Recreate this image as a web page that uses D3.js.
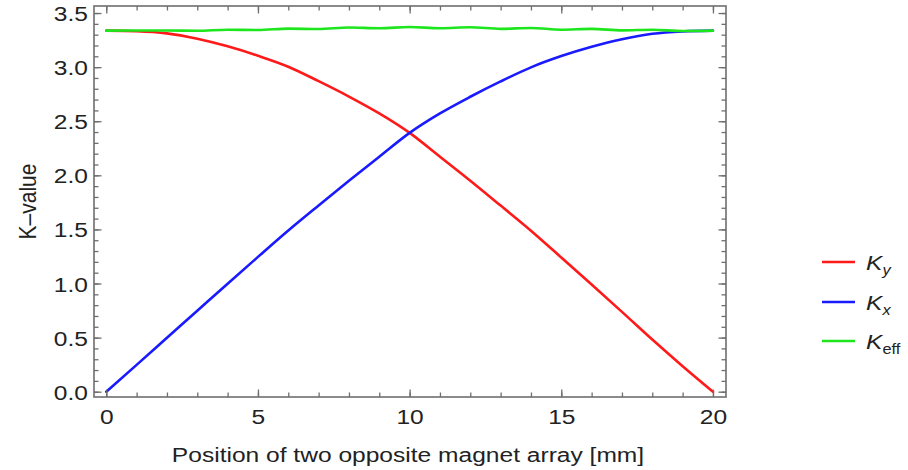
<!DOCTYPE html>
<html>
<head>
<meta charset="utf-8">
<script src="https://cdn.jsdelivr.net/npm/d3@7"></script>
<style>
  html, body { margin: 0; padding: 0; background: #fff; }
  svg { display: block; font-family: "Liberation Sans", Arial, sans-serif; }
</style>
</head>
<body>
<svg id="chart" width="908" height="470"></svg>
<script>
// Magnet position along the array [mm]
const positions = [0, 1, 2, 3, 4, 5, 6, 7, 8, 9, 10, 11, 12, 13, 14, 15, 16, 17, 18, 19, 20];
// Vertical K component
const kY = [3.337, 3.332, 3.312, 3.262, 3.192, 3.105, 3.004, 2.870, 2.728, 2.572, 2.392,
            2.172, 1.950, 1.720, 1.488, 1.240, 0.990, 0.738, 0.482, 0.236, 0.0];
// Horizontal K component
const kX = [0.0, 0.248, 0.498, 0.748, 0.998, 1.246, 1.490, 1.722, 1.950, 2.172, 2.392,
            2.572, 2.726, 2.868, 2.998, 3.102, 3.188, 3.258, 3.308, 3.330, 3.337];
// Effective K
const kEff = [3.337, 3.338, 3.338, 3.336, 3.346, 3.343, 3.356, 3.352, 3.366, 3.360, 3.371,
              3.360, 3.368, 3.354, 3.362, 3.346, 3.354, 3.340, 3.346, 3.334, 3.337];

const xMajorTicks = [0, 5, 10, 15, 20];
const xMinorTicks = [0, 1, 2, 3, 4, 5, 6, 7, 8, 9, 10, 11, 12, 13, 14, 15, 16, 17, 18, 19, 20];
const yMajorTicks = [0, 0.5, 1.0, 1.5, 2.0, 2.5, 3.0, 3.5];
const yMinorTicks = d3.range(0, 36).map(i => i / 10);

const xTitle = "Position of two opposite magnet array [mm]";
const yTitle = "K\u2013value";

const series = [
  { name: "K", sub: "y", subItalic: true,  values: kY,   color: "#ff1a1a" },
  { name: "K", sub: "x", subItalic: true,  values: kX,   color: "#1a1aff" },
  { name: "K", sub: "eff", subItalic: false, values: kEff, color: "#1ee61e" }
];

// Layout
const frame = { left: 94, right: 726, top: 6, bottom: 397 };
const SX = 1.17;          // horizontal glyph stretch
const FONT = 21;
const textColor = "#222";
const frameColor = "#6e6e6e";

const svg = d3.select("#chart");

const x = d3.scaleLinear().domain([-0.405, 20.43]).range([frame.left, frame.right]);
const y = d3.scaleLinear().domain([-0.049, 3.565]).range([frame.bottom, frame.top]);

// Text with the wide glyph proportions used throughout the figure
function wideText(parent, tx, ty, anchor) {
  return parent.append("text")
    .attr("transform", `translate(${tx},${ty}) scale(${SX},1)`)
    .attr("text-anchor", anchor)
    .attr("font-size", FONT)
    .attr("fill", textColor);
}

// Curves
const line = d3.line()
  .x((d, i) => x(positions[i]))
  .y(d => y(d))
  .curve(d3.curveMonotoneX);

const plot = svg.append("g");
series.forEach(s => {
  plot.append("path")
    .attr("d", line(s.values))
    .attr("fill", "none")
    .attr("stroke", s.color)
    .attr("stroke-width", 2.6)
    .attr("stroke-linejoin", "round")
    .attr("stroke-linecap", "round");
});

// Frame ticks (pointing inward on all four sides)
function tickMarks(axisGen, tx, ty) {
  const g = svg.append("g").attr("transform", `translate(${tx},${ty})`).call(axisGen);
  g.select(".domain").remove();
  g.selectAll("text").remove();
  g.selectAll("line").attr("stroke", frameColor).attr("stroke-width", 1.3);
  return g;
}
tickMarks(d3.axisLeft(y).tickValues(yMinorTicks).tickSizeInner(-4.5).tickSizeOuter(0), frame.left, 0);
tickMarks(d3.axisLeft(y).tickValues(yMajorTicks).tickSizeInner(-7.5).tickSizeOuter(0), frame.left, 0);
tickMarks(d3.axisRight(y).tickValues(yMinorTicks).tickSizeInner(-4.5).tickSizeOuter(0), frame.right, 0);
tickMarks(d3.axisRight(y).tickValues(yMajorTicks).tickSizeInner(-7.5).tickSizeOuter(0), frame.right, 0);
tickMarks(d3.axisBottom(x).tickValues(xMinorTicks).tickSizeInner(-4.5).tickSizeOuter(0), 0, frame.bottom);
tickMarks(d3.axisBottom(x).tickValues(xMajorTicks).tickSizeInner(-7.5).tickSizeOuter(0), 0, frame.bottom);
tickMarks(d3.axisTop(x).tickValues(xMinorTicks).tickSizeInner(-4.5).tickSizeOuter(0), 0, frame.top);
tickMarks(d3.axisTop(x).tickValues(xMajorTicks).tickSizeInner(-7.5).tickSizeOuter(0), 0, frame.top);

// Frame border
svg.append("rect")
  .attr("x", frame.left).attr("y", frame.top)
  .attr("width", frame.right - frame.left).attr("height", frame.bottom - frame.top)
  .attr("fill", "none").attr("stroke", frameColor).attr("stroke-width", 1.6);

// Tick labels
const yLab = svg.append("g").attr("transform", `translate(${frame.left},0)`)
  .call(d3.axisLeft(y).tickValues(yMajorTicks).tickSize(0).tickPadding(6).tickFormat(d3.format(".1f")));
yLab.select(".domain").remove();
yLab.selectAll("text")
  .attr("x", null).attr("dy", null)
  .attr("transform", "translate(-6,7.5) scale(" + SX + ",1)")
  .attr("font-size", FONT).attr("fill", textColor)
  .attr("font-family", "Liberation Sans, Arial, sans-serif");

const xLab = svg.append("g").attr("transform", `translate(0,${frame.bottom})`)
  .call(d3.axisBottom(x).tickValues(xMajorTicks).tickSize(0).tickFormat(d3.format("d")));
xLab.select(".domain").remove();
xLab.selectAll("text")
  .attr("y", null).attr("dy", null)
  .attr("transform", "translate(0,26.5) scale(" + SX + ",1)")
  .attr("font-size", FONT).attr("fill", textColor)
  .attr("font-family", "Liberation Sans, Arial, sans-serif");

// Axis titles
wideText(svg, (frame.left + frame.right) / 2 - 2, 462, "middle").text(xTitle);
svg.append("text")
  .attr("transform", `translate(36,${(frame.top + frame.bottom) / 2}) scale(${SX},1) rotate(-90)`)
  .attr("text-anchor", "middle")
  .attr("font-size", FONT)
  .attr("fill", textColor)
  .text(yTitle);

// Legend
const legend = svg.append("g");
const legendRows = [262, 302, 341];
series.forEach((s, i) => {
  const ly = legendRows[i];
  legend.append("line")
    .attr("x1", 822).attr("x2", 855)
    .attr("y1", ly).attr("y2", ly)
    .attr("stroke", s.color).attr("stroke-width", 2.6);
  const t = wideText(legend, 866, ly + 7.5, "start");
  t.append("tspan").attr("font-style", "italic").text(s.name);
  t.append("tspan")
    .attr("font-size", 14)
    .attr("dy", 5)
    .attr("font-style", s.subItalic ? "italic" : "normal")
    .text(s.sub);
});
</script>
</body>
</html>
